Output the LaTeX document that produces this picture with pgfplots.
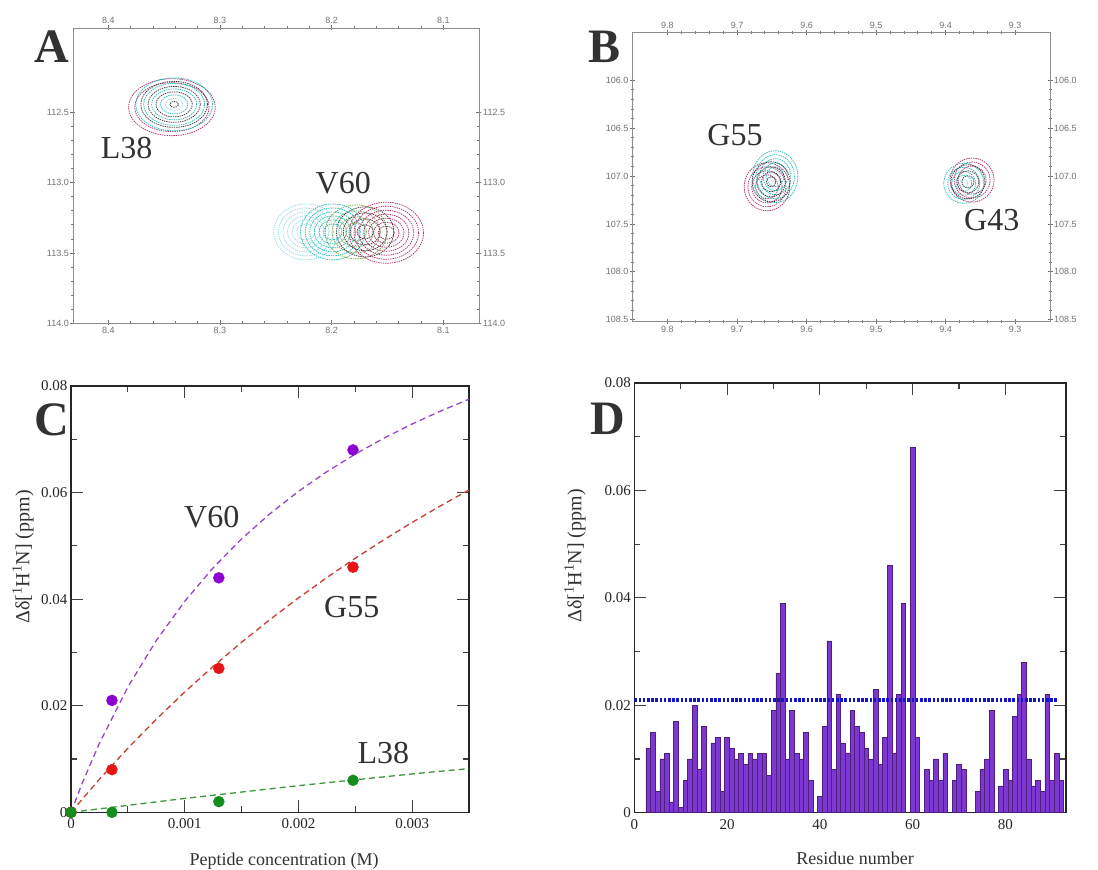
\documentclass[border=0pt]{standalone}
\usepackage{pgfplots}
\pgfplotsset{compat=1.18}
\usepackage{fontspec}
\setmainfont{Liberation Serif}
\newfontfamily\smallsans{Liberation Sans}
\definecolor{cmag}{RGB}{176,48,110}
\definecolor{ccyan}{RGB}{40,190,190}
\definecolor{cpale}{RGB}{150,220,230}
\definecolor{cgreen}{RGB}{120,170,70}
\definecolor{cdark}{RGB}{60,60,60}
\definecolor{vpurple}{RGB}{140,0,210}
\definecolor{vline}{RGB}{150,70,200}
\definecolor{gred}{RGB}{230,20,20}
\definecolor{gline}{RGB}{200,60,50}
\definecolor{lgreen}{RGB}{20,140,30}
\definecolor{lline}{RGB}{60,150,60}
\definecolor{barfill}{RGB}{124,56,208}
\definecolor{baredge}{RGB}{80,30,125}
\definecolor{dotblue}{RGB}{20,20,200}
\definecolor{txt}{RGB}{50,50,50}
\newcommand{\ring}[5]{\addplot[only marks, mark=o, mark size=#4, mark options={draw=#1, line width=0.75pt, dash pattern=on 1.4pt off 0.9pt, xscale=#5}] coordinates {(#2,#3)};}
\pgfplotsset{
 nmrax/.style={scale only axis, anchor=south west, x dir=reverse, y dir=reverse,
   axis line style={black!45, line width=0.8pt},
   tick style={black!55, line width=0.8pt}, tick align=center,
   major tick length=5pt, minor tick length=3pt,
   minor x tick num=4, minor y tick num=4,
   tick label style={font=\smallsans\fontsize{9}{9}\selectfont, text=black!55, inner sep=1.5pt},
   /pgf/number format/assume math mode=true, clip=false},
 datax/.style={scale only axis, anchor=south west,
   axis line style={black!85, line width=1.4pt},
   tick style={black!75, line width=1.2pt}, tick align=inside,
   major tick length=12pt, minor tick length=6pt,
   tick label style={font=\fontsize{15}{15}\selectfont, text=black!85},
   xticklabel style={yshift=-3pt},
   /pgf/number format/assume math mode=true, scaled ticks=false}
}
\begin{document}
\begin{tikzpicture}
\path[use as bounding box, fill=white] (0,0) rectangle (1098pt,870pt);
% ---------------- Panel A
\begin{axis}[nmrax, at={(73pt,547pt)}, width=406pt, height=295pt,
  xmin=8.068, xmax=8.4316, ymin=111.895, ymax=114.0,
  xtick={8.1,8.2,8.3,8.4}, xticklabels={8.1,8.2,8.3,8.4},
  ytick={112.5,113,113.5,114}, yticklabels={112.5,113.0,113.5,114.0}]
\ring{cmag}{8.343}{112.46}{28.5}{1.52}
\ring{cmag}{8.343}{112.46}{24.5}{1.52}
\ring{ccyan}{8.341}{112.44}{26.5}{1.45}
\ring{cdark}{8.341}{112.44}{23}{1.45}
\ring{ccyan}{8.341}{112.44}{21}{1.45}
\ring{cdark}{8.341}{112.44}{18}{1.45}
\ring{ccyan}{8.341}{112.44}{15.5}{1.45}
\ring{cdark}{8.341}{112.44}{12.5}{1.45}
\ring{ccyan}{8.341}{112.44}{9.5}{1.45}
\ring{cpale}{8.341}{112.44}{6}{1.45}
\ring{cdark}{8.341}{112.44}{3}{1.45}
% V60
\ring{cpale}{8.223}{113.35}{28}{1.15}
\ring{cpale}{8.223}{113.35}{24}{1.15}
\ring{cpale}{8.223}{113.35}{20}{1.15}
\ring{cpale}{8.223}{113.35}{16}{1.15}
\ring{cpale}{8.223}{113.35}{12}{1.15}
\ring{cpale}{8.223}{113.35}{8}{1.15}
\ring{ccyan}{8.199}{113.35}{28}{1.15}
\ring{ccyan}{8.199}{113.35}{24}{1.15}
\ring{ccyan}{8.199}{113.35}{20}{1.15}
\ring{ccyan}{8.199}{113.35}{16}{1.15}
\ring{ccyan}{8.199}{113.35}{12}{1.15}
\ring{ccyan}{8.199}{113.35}{8}{1.15}
\ring{cgreen}{8.178}{113.35}{27}{1.15}
\ring{cgreen}{8.178}{113.35}{21}{1.15}
\ring{cgreen}{8.178}{113.35}{15}{1.15}
\ring{cgreen}{8.178}{113.35}{9}{1.15}
\ring{cdark}{8.170}{113.35}{25}{1.15}
\ring{cdark}{8.170}{113.35}{19}{1.15}
\ring{cdark}{8.170}{113.35}{13}{1.15}
\ring{cdark}{8.170}{113.35}{7}{1.15}
\ring{cmag}{8.151}{113.356}{30.5}{1.22}
\ring{cmag}{8.151}{113.356}{26.5}{1.22}
\ring{cmag}{8.151}{113.356}{22.5}{1.22}
\ring{cmag}{8.151}{113.356}{18.5}{1.22}
\ring{cmag}{8.151}{113.356}{14.5}{1.22}
\ring{cmag}{8.151}{113.356}{10.5}{1.22}
\ring{cmag}{8.151}{113.356}{6.5}{1.22}
\end{axis}
\begin{axis}[nmrax, at={(73pt,547pt)}, width=406pt, height=295pt,
  xmin=8.068, xmax=8.4316, ymin=111.895, ymax=114.0,
  xtick={8.1,8.2,8.3,8.4}, xticklabels={8.1,8.2,8.3,8.4},
  ytick={112.5,113,113.5,114}, yticklabels={112.5,113.0,113.5,114.0},
  xticklabel pos=upper, yticklabel pos=right]
\end{axis}
% ---------------- Panel B
\begin{axis}[nmrax, at={(632.7pt,548.3pt)}, width=417.3pt, height=289.4pt,
  xmin=9.25, xmax=9.85, ymin=105.5, ymax=108.52,
  xtick={9.3,9.4,9.5,9.6,9.7,9.8}, xticklabels={9.3,9.4,9.5,9.6,9.7,9.8},
  ytick={106,106.5,107,107.5,108,108.5}, yticklabels={106.0,106.5,107.0,107.5,108.0,108.5}]
\ring{cmag}{9.657}{107.112}{24}{0.95}
\ring{cmag}{9.657}{107.112}{20}{0.95}
\ring{cmag}{9.657}{107.112}{16}{0.95}
\ring{cmag}{9.657}{107.112}{12}{0.95}
\ring{ccyan}{9.645}{107.007}{26}{0.87}
\ring{ccyan}{9.645}{107.007}{22}{0.87}
\ring{ccyan}{9.645}{107.007}{18}{0.87}
\ring{ccyan}{9.645}{107.007}{14}{0.87}
\ring{ccyan}{9.645}{107.007}{10}{0.87}
\ring{cpale}{9.645}{107.007}{6}{0.87}
\ring{cdark}{9.651}{107.06}{20}{0.95}
\ring{cdark}{9.651}{107.06}{15}{0.95}
\ring{cdark}{9.651}{107.06}{10}{0.95}
\ring{cdark}{9.651}{107.06}{5}{0.95}
\ring{cmag}{9.362}{107.042}{22}{1.0}
\ring{cmag}{9.362}{107.042}{18}{1.0}
\ring{cmag}{9.362}{107.042}{14}{1.0}
\ring{ccyan}{9.374}{107.076}{20}{1.0}
\ring{ccyan}{9.374}{107.076}{16}{1.0}
\ring{ccyan}{9.374}{107.076}{12}{1.0}
\ring{ccyan}{9.374}{107.076}{8}{1.0}
\ring{cpale}{9.374}{107.076}{4}{1.0}
\ring{cdark}{9.368}{107.06}{17}{1.0}
\ring{cdark}{9.368}{107.06}{11}{1.0}
\ring{cdark}{9.368}{107.06}{6}{1.0}
\end{axis}
\begin{axis}[nmrax, at={(632.7pt,548.3pt)}, width=417.3pt, height=289.4pt,
  xmin=9.25, xmax=9.85, ymin=105.5, ymax=108.52,
  xtick={9.3,9.4,9.5,9.6,9.7,9.8}, xticklabels={9.3,9.4,9.5,9.6,9.7,9.8},
  ytick={106,106.5,107,107.5,108,108.5}, yticklabels={106.0,106.5,107.0,107.5,108.0,108.5},
  xticklabel pos=upper, yticklabel pos=right]
\end{axis}
% ---------------- Panel C
\begin{axis}[datax, at={(71pt,57.7pt)}, width=398pt, height=426.3pt,
  xmin=0, xmax=0.0035, ymin=0, ymax=0.08,
  xtick={0,0.001,0.002,0.003}, xticklabels={0,0.001,0.002,0.003}, minor x tick num=1,
  ytick={0,0.02,0.04,0.06,0.08}, yticklabels={0,0.02,0.04,0.06,0.08}, minor y tick num=1]
\addplot[vline, line width=1.3pt, dash pattern=on 6pt off 4pt] coordinates {(0,0) (0.0001,0.00553) (0.00025,0.01296) (0.0005,0.0235) (0.00075,0.03223) (0.001,0.03959) (0.00125,0.04588) (0.0015,0.05131) (0.00175,0.05604) (0.002,0.06022) (0.00225,0.06392) (0.0025,0.06722) (0.00275,0.07019) (0.003,0.07287) (0.00325,0.0753) (0.0035,0.07752)};
\addplot[gline, line width=1.3pt, dash pattern=on 6pt off 4pt] coordinates {(0,0) (0.00025,0.00621) (0.0005,0.01202) (0.00075,0.01746) (0.001,0.02257) (0.00125,0.02737) (0.0015,0.0319) (0.00175,0.03618) (0.002,0.04022) (0.00225,0.04405) (0.0025,0.04768) (0.00275,0.05112) (0.003,0.0544) (0.00325,0.05752) (0.0035,0.0605)};
\addplot[lline, line width=1.3pt, dash pattern=on 6pt off 4pt] coordinates {(0,0) (0.0005,0.0013) (0.001,0.0026) (0.0015,0.0038) (0.002,0.005) (0.0025,0.0061) (0.003,0.0072) (0.0035,0.0082)};
\addplot[only marks, mark=*, mark size=5.5pt, color=vpurple, mark options={fill=vpurple, draw=vpurple}] coordinates {(0,0) (0.00036,0.021) (0.0013,0.044) (0.00248,0.068)};
\addplot[only marks, mark=*, mark size=5.5pt, color=gred, mark options={fill=gred, draw=gred}] coordinates {(0,0) (0.00036,0.008) (0.0013,0.027) (0.00248,0.046)};
\addplot[only marks, mark=*, mark size=5.5pt, color=lgreen, mark options={fill=lgreen, draw=lgreen}] coordinates {(0,0) (0.00036,0) (0.0013,0.002) (0.00248,0.006)};
\end{axis}
% ---------------- Panel D
\begin{axis}[datax, at={(634.3pt,57.3pt)}, width=431.5pt, height=429.7pt,
  xmin=0, xmax=93, ymin=0, ymax=0.08,
  xtick={0,20,40,60,80}, xticklabels={0,20,40,60,80}, minor x tick num=1,
  ytick={0,0.02,0.04,0.06,0.08}, yticklabels={0,0.02,0.04,0.06,0.08}, minor y tick num=1]
\addplot[ybar, bar width=1, fill=barfill, draw=baredge, line width=0.6pt] coordinates {
(3,0.012) (4,0.015) (5,0.004) (6,0.010) (7,0.011) (8,0.002) (9,0.017) (10,0.001)
(11,0.006) (12,0.010) (13,0.020) (14,0.008) (15,0.016) (17,0.013) (18,0.014) (19,0.004)
(20,0.014) (21,0.012) (22,0.010) (23,0.011) (24,0.009) (25,0.011) (26,0.010) (27,0.011)
(28,0.011) (29,0.007) (30,0.019) (31,0.026) (32,0.039) (33,0.010) (34,0.019) (35,0.011)
(36,0.010) (37,0.015) (38,0.006) (40,0.003) (41,0.016) (42,0.032) (43,0.008) (44,0.022)
(45,0.013) (46,0.011) (47,0.019) (48,0.016) (49,0.015) (50,0.012) (51,0.010) (52,0.023)
(53,0.009) (54,0.014) (55,0.046) (56,0.011) (57,0.022) (58,0.039) (60,0.068) (61,0.014)
(63,0.008) (64,0.006) (65,0.010) (66,0.006) (67,0.011) (69,0.006) (70,0.009) (71,0.008)
(74,0.004) (75,0.008) (76,0.010) (77,0.019) (79,0.005) (80,0.008) (81,0.006) (82,0.018)
(83,0.022) (84,0.028) (85,0.010) (86,0.005) (87,0.006) (88,0.004) (89,0.022) (90,0.006)
(91,0.011) (92,0.006)};
\addplot[dotblue, line width=3.2pt, dash pattern=on 2.6pt off 1.6pt] coordinates {(0,0.021) (91,0.021)};
\end{axis}
% ---------------- Texts
\begin{scope}[every node/.style={text=txt}]
\node[font=\bfseries\fontsize{48}{48}\selectfont] at (52pt,823pt) {A};
\node[font=\bfseries\fontsize{48}{48}\selectfont] at (605pt,823pt) {B};
\node[font=\bfseries\fontsize{48}{48}\selectfont] at (52pt,450pt) {C};
\node[font=\bfseries\fontsize{48}{48}\selectfont] at (607.7pt,451pt) {D};
\node[font=\fontsize{32}{32}\selectfont] at (126.7pt,721.7pt) {L38};
\node[font=\fontsize{32}{32}\selectfont] at (343.3pt,686.7pt) {V60};
\node[font=\fontsize{32}{32}\selectfont] at (735pt,735pt) {G55};
\node[font=\fontsize{32}{32}\selectfont] at (991.7pt,650pt) {G43};
\node[font=\fontsize{32}{32}\selectfont] at (211.7pt,353.3pt) {V60};
\node[font=\fontsize{32}{32}\selectfont] at (351.7pt,263.3pt) {G55};
\node[font=\fontsize{32}{32}\selectfont] at (383.3pt,116.7pt) {L38};
\node[font=\fontsize{20}{20}\selectfont, rotate=90] at (23pt,313pt) {Δδ[\textsuperscript{1}H\textsuperscript{1}N] (ppm)};
\node[font=\fontsize{20}{20}\selectfont, rotate=90] at (575pt,314pt) {Δδ[\textsuperscript{1}H\textsuperscript{1}N] (ppm)};
\node[font=\fontsize{18}{18}\selectfont] at (284pt,9.3pt) {Peptide concentration (M)};
\node[font=\fontsize{18}{18}\selectfont] at (855pt,12pt) {Residue number};
\end{scope}
\end{tikzpicture}
\end{document}
